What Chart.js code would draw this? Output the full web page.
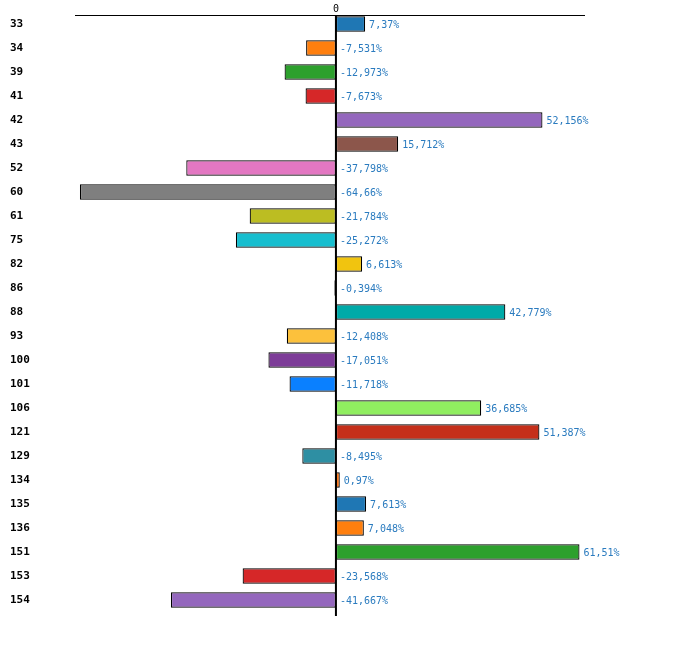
<!DOCTYPE html>
<html>
<head>
<meta charset="utf-8">
<script src="https://cdn.jsdelivr.net/npm/chart.js@4/dist/chart.umd.min.js"></script>
<style>
  body { margin:0; background:#fff; }
  #wrap { position:relative; width:700px; height:645px; }
</style>
</head>
<body>
<div id="wrap"><canvas id="chart"></canvas></div>
<script>
/* data */
const categories = ['33','34','39','41','42','43','52','60','61','75','82','86','88','93','100','101','106','121','129','134','135','136','151','153','154'];
const values = [7.37, -7.531, -12.973, -7.673, 52.156, 15.712, -37.798, -64.66, -21.784, -25.272, 6.613, -0.394, 42.779, -12.408, -17.051, -11.718, 36.685, 51.387, -8.495, 0.97, 7.613, 7.048, 61.51, -23.568, -41.667];
const barColors = ['#1f77b4','#ff7f0e','#2ca02c','#d62728','#9467bd','#8c564b','#e377c2','#7f7f7f','#bcbd22','#17becf',
  '#f1c40f','#e74c3c','#00aaa8','#fcc13c','#7d3c98','#0a80ff','#90ee60','#c52f1a','#2e8fa3','#ff6a00',
  '#1f77b4','#ff7f0e','#2ca02c','#d62728','#9467bd'];
const xTicks = [0];

function fmt(v){ return String(v).replace('.', ',') + '%'; }

// top axis line, zero tick and the zero line
const axisPlugin = {
  id: 'axisPlugin',
  afterDatasetsDraw(chart){
    const ctx = chart.ctx, x = chart.scales.x, area = chart.chartArea;
    const top = area.top + 3.5;
    ctx.save();
    ctx.strokeStyle = '#000';
    ctx.lineWidth = 1;
    ctx.beginPath();
    ctx.moveTo(area.left, top);
    ctx.lineTo(area.right, top);
    ctx.stroke();
    ctx.fillStyle = '#000';
    ctx.font = '10px "DejaVu Sans Mono"';
    ctx.textAlign = 'center';
    ctx.textBaseline = 'bottom';
    xTicks.forEach(t => {
      const px = x.getPixelForValue(t);
      ctx.fillText(String(t), px, top - 1);
    });
    const z = x.getPixelForValue(0);
    ctx.lineWidth = 2;
    ctx.beginPath();
    ctx.moveTo(z, top);
    ctx.lineTo(z, area.bottom + 4);
    ctx.stroke();
    ctx.restore();
  }
};

// value labels next to the bars
const valuePlugin = {
  id: 'valuePlugin',
  afterDatasetsDraw(chart){
    const ctx = chart.ctx, x = chart.scales.x;
    const meta = chart.getDatasetMeta(0);
    const z = x.getPixelForValue(0);
    ctx.save();
    ctx.fillStyle = '#2a7bbf';
    ctx.font = '10px "DejaVu Sans Mono"';
    ctx.textAlign = 'left';
    ctx.textBaseline = 'middle';
    meta.data.forEach((bar, i) => {
      const v = values[i];
      const px = v > 0 ? x.getPixelForValue(v) + 4 : z + 4;
      ctx.fillText(fmt(v), px, bar.y + 1);
    });
    ctx.restore();
  }
};

new Chart(document.getElementById('chart'), {
  type: 'bar',
  data: {
    labels: categories,
    datasets: [{
      data: values,
      backgroundColor: barColors,
      borderColor: '#000',
      borderWidth: 1.2,
      borderSkipped: false,
      barPercentage: 0.64,
      categoryPercentage: 1
    }]
  },
  options: {
    indexAxis: 'y',
    responsive: true,
    maintainAspectRatio: false,
    animation: false,
    layout: { padding: { left: 10, right: 115, top: 12, bottom: 33 } },
    plugins: { legend: { display:false }, tooltip: { enabled:false } },
    scales: {
      x: { display:false, min:-65.9, max:62.9 },
      y: {
        grid: { display:false },
        border: { display:false },
        afterFit(scale){ scale.width = 65; },
        ticks: {
          crossAlign: 'far',
          color: '#000',
          font: { family:'DejaVu Sans Mono', size:11, weight:'bold' }
        }
      }
    }
  },
  plugins: [axisPlugin, valuePlugin]
});
</script>
</body>
</html>
